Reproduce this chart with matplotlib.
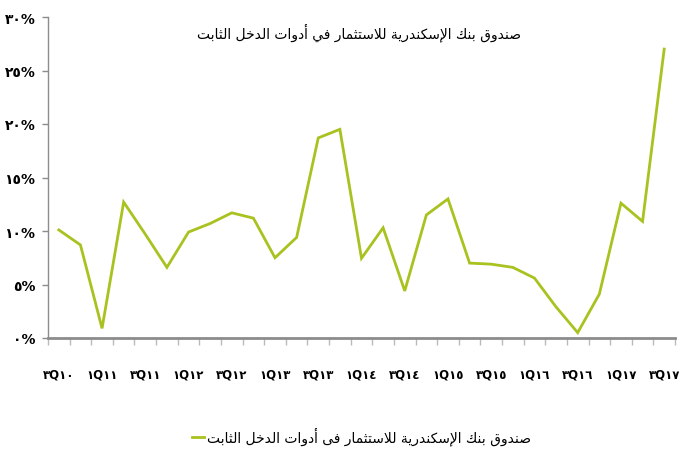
import matplotlib
matplotlib.use("Agg")
import matplotlib.pyplot as plt

# ---------------- data ----------------
title_ar = "صندوق بنك الإسكندرية للاستثمار في أدوات الدخل الثابت"
legend_ar = "صندوق بنك الإسكندرية للاستثمار فى أدوات الدخل الثابت"

quarters = ["3Q10", "4Q10", "1Q11", "2Q11", "3Q11", "4Q11", "1Q12", "2Q12",
            "3Q12", "4Q12", "1Q13", "2Q13", "3Q13", "4Q13", "1Q14", "2Q14",
            "3Q14", "4Q14", "1Q15", "2Q15", "3Q15", "4Q15", "1Q16", "2Q16",
            "3Q16", "4Q16", "1Q17", "2Q17", "3Q17"]
values = [10.1, 8.7, 0.9, 12.7, 9.7, 6.6, 9.9, 10.7, 11.7, 11.2,
          7.5, 9.4, 18.7, 19.5, 7.45, 10.3, 4.4, 11.5, 13.0, 7.0,
          6.9, 6.6, 5.6, 2.9, 0.5, 4.1, 12.6, 10.9, 27.0]
y_ticks = [0, 5, 10, 15, 20, 25, 30]

# ---------------- Arabic helpers ----------------
AR_DIGITS = str.maketrans("0123456789", "٠١٢٣٤٥٦٧٨٩")

# forms: isolated, final, initial, medial
FORMS = {
    "ا": ("\uFE8D", "\uFE8E", None, None),
    "أ": ("\uFE83", "\uFE84", None, None),
    "إ": ("\uFE87", "\uFE88", None, None),
    "ب": ("\uFE8F", "\uFE90", "\uFE91", "\uFE92"),
    "ة": ("\uFE93", "\uFE94", None, None),
    "ت": ("\uFE95", "\uFE96", "\uFE97", "\uFE98"),
    "ث": ("\uFE99", "\uFE9A", "\uFE9B", "\uFE9C"),
    "خ": ("\uFEA5", "\uFEA6", "\uFEA7", "\uFEA8"),
    "د": ("\uFEA9", "\uFEAA", None, None),
    "ر": ("\uFEAD", "\uFEAE", None, None),
    "س": ("\uFEB1", "\uFEB2", "\uFEB3", "\uFEB4"),
    "ص": ("\uFEB9", "\uFEBA", "\uFEBB", "\uFEBC"),
    "ف": ("\uFED1", "\uFED2", "\uFED3", "\uFED4"),
    "ق": ("\uFED5", "\uFED6", "\uFED7", "\uFED8"),
    "ك": ("\uFED9", "\uFEDA", "\uFEDB", "\uFEDC"),
    "ل": ("\uFEDD", "\uFEDE", "\uFEDF", "\uFEE0"),
    "م": ("\uFEE1", "\uFEE2", "\uFEE3", "\uFEE4"),
    "ن": ("\uFEE5", "\uFEE6", "\uFEE7", "\uFEE8"),
    "و": ("\uFEED", "\uFEEE", None, None),
    "ى": ("\uFEEF", "\uFEF0", None, None),
    "ي": ("\uFEF1", "\uFEF2", "\uFEF3", "\uFEF4"),
    "لا": ("\uFEFB", "\uFEFC", None, None),
    "لأ": ("\uFEF7", "\uFEF8", None, None),
    "لإ": ("\uFEF9", "\uFEFA", None, None),
}


def shape_word(word):
    toks = []
    i = 0
    while i < len(word):
        if word[i] == "ل" and i + 1 < len(word) and word[i + 1] in "اأإ":
            toks.append(word[i:i + 2])
            i += 2
        else:
            toks.append(word[i])
            i += 1
    out = []
    for k, t in enumerate(toks):
        f = FORMS.get(t)
        if f is None:
            out.append(t)
            continue
        prev_joins = k > 0 and FORMS.get(toks[k - 1]) is not None and FORMS[toks[k - 1]][2] is not None
        next_joins = f[2] is not None and k + 1 < len(toks) and toks[k + 1] in FORMS
        if prev_joins and next_joins:
            out.append(f[3])
        elif prev_joins:
            out.append(f[1])
        elif next_joins:
            out.append(f[2])
        else:
            out.append(f[0])
    return "".join(out)


def ar(text):
    shaped = " ".join(shape_word(w) for w in text.split(" "))
    return shaped[::-1]


def q_label(q):
    # "3Q10" -> visual "٣Q١٠"
    return q[0].translate(AR_DIGITS) + "Q" + q[2:].translate(AR_DIGITS)


# ---------------- plot ----------------
plt.rcParams["font.family"] = ["DejaVu Sans"]

fig = plt.figure(figsize=(6.79, 4.52), dpi=100)
ax = fig.add_axes([48 / 679, 1 - 339 / 452, (675 - 48) / 679, (339 - 18) / 452])

x = list(range(len(values)))
ax.plot(x, values, color="#A9C21F", lw=2.0, solid_joinstyle="miter",
        label=ar(legend_ar))

ax.set_xlim(-0.5, len(values) - 0.5)
ax.set_ylim(0, 30)

# y axis
ax.set_yticks(y_ticks)
ax.set_yticklabels([(str(v) + "%").translate(AR_DIGITS) for v in y_ticks],
                   fontsize=10, fontweight="bold")
ax.tick_params(axis="y", length=4, width=1, color="#8C8C8C", pad=5)

# x axis: boundary tick marks + labels every other quarter
ax.set_xticks([i - 0.5 for i in range(len(values) + 1)], minor=True)
ax.tick_params(axis="x", which="minor", length=5, width=1, color="#BBBBBB")
major = x[::2]
ax.set_xticks(major)
ax.set_xticklabels([q_label(quarters[i]) for i in major], fontsize=8.5,
                   fontweight="bold")
ax.tick_params(axis="x", which="major", length=0, pad=21)

for s in ["top", "right"]:
    ax.spines[s].set_visible(False)
ax.spines["left"].set_color("#8C8C8C")
ax.spines["left"].set_linewidth(1)
ax.spines["bottom"].set_color("#8C8C8C")
ax.spines["bottom"].set_linewidth(2)

fig.text(0.529, 0.927, ar(title_ar), ha="center", va="center", fontsize=10)

ax.legend(loc="center", bbox_to_anchor=(0.532, 0.033),
          bbox_transform=fig.transFigure, frameon=False, fontsize=10,
          handlelength=0.9, handletextpad=0.2)

fig.savefig("out.png", dpi=100)
